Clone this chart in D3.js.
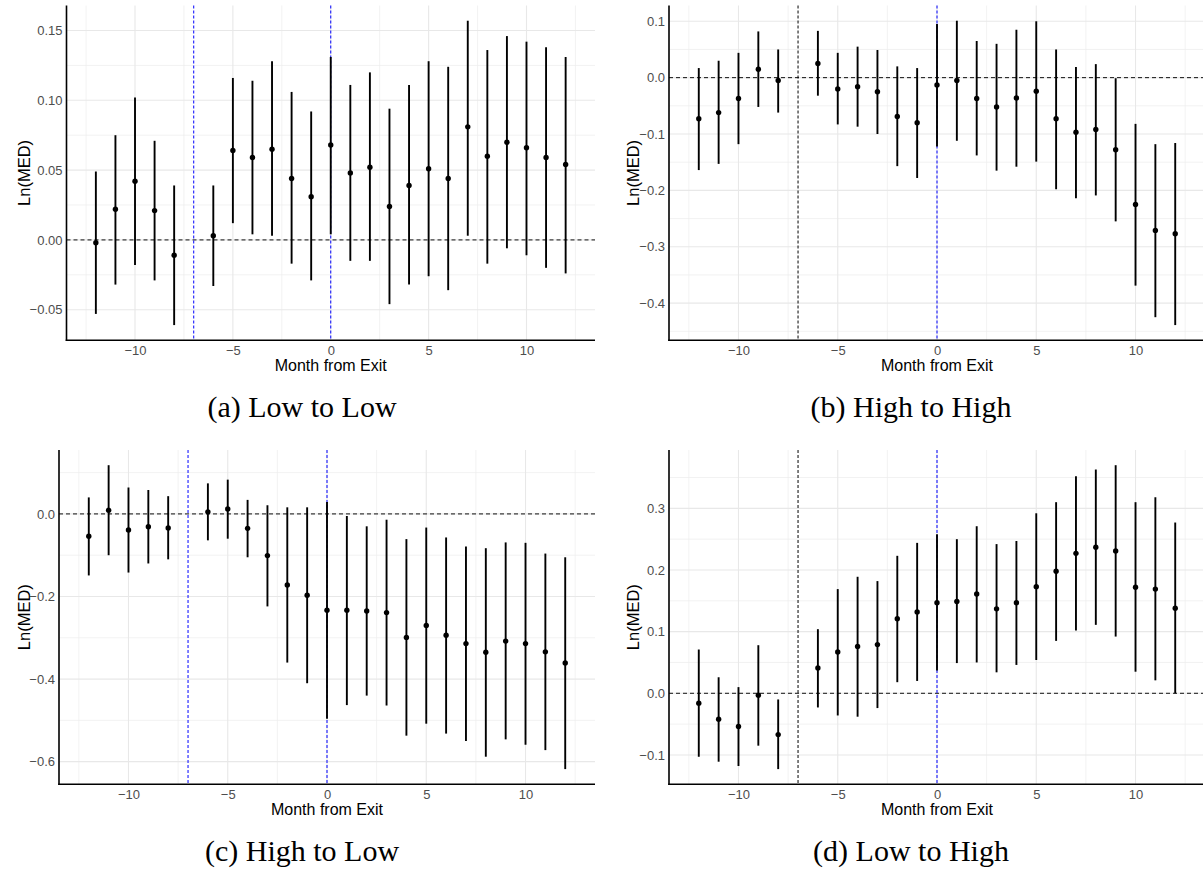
<!DOCTYPE html>
<html>
<head>
<meta charset="utf-8">
<script src="https://cdn.jsdelivr.net/npm/d3@7"></script>
<style>
  body { margin: 0; background: #fff; }
  .caption { font-family: "Liberation Serif", "Times New Roman", serif; }
</style>
</head>
<body>
<div id="grafico"></div>
<script>
// Meses relativos a la salida (no hay mes -7)
const months = [-12, -11, -10, -9, -8, -6, -5, -4, -3, -2, -1, 0, 1, 2, 3, 4, 5, 6, 7, 8, 9, 10, 11, 12];

// (a) Low to Low
const estA = [-0.002, 0.022, 0.042, 0.021, -0.011, 0.003, 0.064, 0.059, 0.065, 0.044, 0.031, 0.068, 0.048, 0.052, 0.024, 0.039, 0.051, 0.044, 0.081, 0.060, 0.070, 0.066, 0.059, 0.054];
const loA = [-0.053, -0.032, -0.018, -0.029, -0.061, -0.033, 0.012, 0.004, 0.003, -0.017, -0.029, 0.004, -0.015, -0.015, -0.046, -0.032, -0.026, -0.036, 0.003, -0.017, -0.006, -0.011, -0.020, -0.024];
const hiA = [0.049, 0.075, 0.102, 0.071, 0.039, 0.039, 0.116, 0.114, 0.128, 0.106, 0.092, 0.131, 0.111, 0.120, 0.094, 0.111, 0.128, 0.124, 0.157, 0.136, 0.146, 0.142, 0.138, 0.131];

// (b) High to High
const estB = [-0.073, -0.062, -0.037, 0.015, -0.005, 0.025, -0.020, -0.016, -0.025, -0.069, -0.080, -0.013, -0.005, -0.037, -0.052, -0.036, -0.024, -0.073, -0.097, -0.092, -0.128, -0.225, -0.271, -0.277];
const loB = [-0.164, -0.153, -0.118, -0.052, -0.062, -0.032, -0.083, -0.087, -0.100, -0.157, -0.178, -0.122, -0.112, -0.138, -0.165, -0.158, -0.149, -0.198, -0.214, -0.209, -0.255, -0.369, -0.425, -0.439];
const hiB = [0.017, 0.030, 0.044, 0.082, 0.050, 0.083, 0.044, 0.055, 0.049, 0.020, 0.017, 0.095, 0.101, 0.065, 0.060, 0.085, 0.100, 0.050, 0.019, 0.024, -0.001, -0.082, -0.118, -0.116];

// (c) High to Low
const estC = [-0.054, 0.009, -0.039, -0.031, -0.034, 0.005, 0.012, -0.035, -0.101, -0.172, -0.197, -0.233, -0.233, -0.235, -0.239, -0.299, -0.270, -0.294, -0.314, -0.335, -0.308, -0.314, -0.334, -0.361];
const loC = [-0.149, -0.100, -0.142, -0.120, -0.110, -0.064, -0.060, -0.105, -0.224, -0.360, -0.410, -0.496, -0.463, -0.440, -0.464, -0.537, -0.508, -0.532, -0.550, -0.588, -0.546, -0.559, -0.572, -0.618];
const hiC = [0.040, 0.118, 0.064, 0.058, 0.043, 0.074, 0.083, 0.034, 0.021, 0.016, 0.016, 0.029, -0.005, -0.030, -0.014, -0.061, -0.033, -0.057, -0.079, -0.083, -0.069, -0.070, -0.096, -0.105];

// (d) Low to High
const estD = [-0.016, -0.042, -0.054, -0.003, -0.067, 0.041, 0.067, 0.076, 0.079, 0.121, 0.132, 0.147, 0.149, 0.161, 0.137, 0.147, 0.173, 0.198, 0.227, 0.237, 0.231, 0.172, 0.169, 0.138];
const loD = [-0.103, -0.111, -0.118, -0.085, -0.123, -0.023, -0.036, -0.038, -0.024, 0.018, 0.020, 0.037, 0.049, 0.050, 0.034, 0.046, 0.054, 0.085, 0.102, 0.111, 0.092, 0.035, 0.021, 0.000];
const hiD = [0.071, 0.026, 0.010, 0.078, -0.010, 0.104, 0.169, 0.189, 0.182, 0.223, 0.244, 0.258, 0.250, 0.271, 0.242, 0.247, 0.292, 0.310, 0.352, 0.363, 0.370, 0.310, 0.318, 0.277];

// Marcas de los ejes
const xTicks = [-10, -5, 0, 5, 10];
const yTicksA = [-0.05, 0, 0.05, 0.10, 0.15];
const yTicksB = [-0.4, -0.3, -0.2, -0.1, 0, 0.1];
const yTicksC = [-0.6, -0.4, -0.2, 0];
const yTicksD = [-0.1, 0, 0.1, 0.2, 0.3];

const captions = ["(a) Low to Low", "(b) High to High", "(c) High to Low", "(d) Low to High"];
const xTitle = "Month from Exit";
const yTitle = "Ln(MED)";
const startMonth = -7;
const exitMonth = 0;

// Configuración del SVG
const width = 1203;
const height = 871;
const font = "'Liberation Sans', Arial, Helvetica, sans-serif";

const svg = d3.select("#grafico")
    .append("svg")
    .attr("width", width)
    .attr("height", height)
    .style("background", "#fff");

// Posición de cada panel
const panels = [
    { est: estA, lo: loA, hi: hiA, ticks: yTicksA, fmt: ".2f", cap: captions[0], x0: 66.5, x1: 595, y0: 5.5, y1: 340.3, off: 0, c7: "blue" },
    { est: estB, lo: loB, hi: hiB, ticks: yTicksB, fmt: ".1f", cap: captions[1], x0: 669, x1: 1205, y0: 5.5, y1: 340.3, off: 609, c7: "black" },
    { est: estC, lo: loC, hi: hiC, ticks: yTicksC, fmt: ".1f", cap: captions[2], x0: 59, x1: 595, y0: 450, y1: 784.3, off: 0, c7: "blue" },
    { est: estD, lo: loD, hi: hiD, ticks: yTicksD, fmt: ".1f", cap: captions[3], x0: 669, x1: 1205, y0: 450, y1: 784.3, off: 609, c7: "black" }
];

// Marcas menores a medio camino entre las mayores
function minorTicks(ticks, domain) {
    const step = ticks[1] - ticks[0];
    const out = [];
    for (let i = -1; i < ticks.length; i++) {
        const v = (i < 0 ? ticks[0] - step : ticks[i]) + step / 2;
        if (v >= domain[0] && v <= domain[1]) out.push(v);
    }
    return out;
}

panels.forEach(p => {
    const g = svg.append("g");

    const x = d3.scaleLinear().domain([-13.5, 13.5]).range([p.x0, p.x1]);
    const lo = d3.min(p.lo), hi = d3.max(p.hi);
    const pad = (hi - lo) * 0.05;
    const y = d3.scaleLinear().domain([lo - pad, hi + pad]).range([p.y1, p.y0]);

    // Rejilla menor y mayor
    const yMinor = minorTicks(p.ticks, y.domain());
    const xMinor = minorTicks(xTicks, x.domain());

    g.selectAll(".hminor").data(yMinor).enter().append("line")
        .attr("x1", p.x0).attr("x2", p.x1)
        .attr("y1", d => y(d)).attr("y2", d => y(d))
        .attr("stroke", "#ececec").attr("stroke-width", 0.7);
    g.selectAll(".vminor").data(xMinor).enter().append("line")
        .attr("x1", d => x(d)).attr("x2", d => x(d))
        .attr("y1", p.y0).attr("y2", p.y1)
        .attr("stroke", "#ececec").attr("stroke-width", 0.7);
    g.selectAll(".hmajor").data(p.ticks).enter().append("line")
        .attr("x1", p.x0).attr("x2", p.x1)
        .attr("y1", d => y(d)).attr("y2", d => y(d))
        .attr("stroke", "#e8e8e8").attr("stroke-width", 1.1);
    g.selectAll(".vmajor").data(xTicks).enter().append("line")
        .attr("x1", d => x(d)).attr("x2", d => x(d))
        .attr("y1", p.y0).attr("y2", p.y1)
        .attr("stroke", "#e8e8e8").attr("stroke-width", 1.1);

    // Línea horizontal en cero
    g.append("line")
        .attr("x1", p.x0).attr("x2", p.x1)
        .attr("y1", y(0)).attr("y2", y(0))
        .attr("stroke", "#111").attr("stroke-width", 1)
        .attr("stroke-dasharray", "4,3");

    // Líneas verticales: inicio (-7) y salida (0)
    g.append("line")
        .attr("x1", x(startMonth)).attr("x2", x(startMonth))
        .attr("y1", p.y0).attr("y2", p.y1)
        .attr("stroke", p.c7).attr("stroke-width", 1)
        .attr("stroke-dasharray", "3,2");
    g.append("line")
        .attr("x1", x(exitMonth)).attr("x2", x(exitMonth))
        .attr("y1", p.y0).attr("y2", p.y1)
        .attr("stroke", "blue").attr("stroke-width", 1)
        .attr("stroke-dasharray", "3,2");

    // Barras de error y puntos
    const rows = months.map((m, i) => ({ m: m, est: p.est[i], lo: p.lo[i], hi: p.hi[i] }));
    g.selectAll(".bar").data(rows).enter().append("line")
        .attr("x1", d => x(d.m)).attr("x2", d => x(d.m))
        .attr("y1", d => y(d.lo)).attr("y2", d => y(d.hi))
        .attr("stroke", "#000").attr("stroke-width", 1.9);
    g.selectAll(".dot").data(rows).enter().append("circle")
        .attr("cx", d => x(d.m)).attr("cy", d => y(d.est))
        .attr("r", 2.7).attr("fill", "#000");

    // Ejes
    const yAxis = g.append("g")
        .attr("transform", `translate(${p.x0},0)`)
        .call(d3.axisLeft(y).tickValues(p.ticks).tickFormat(d3.format(p.fmt)).tickSize(0).tickPadding(4));
    const xAxis = g.append("g")
        .attr("transform", `translate(0,${p.y1})`)
        .call(d3.axisBottom(x).tickValues(xTicks).tickFormat(d3.format("d")).tickSize(0).tickPadding(5));
    [yAxis, xAxis].forEach(a => {
        a.select(".domain").remove();
        a.selectAll("text")
            .attr("fill", "#4d4d4d")
            .style("font-family", font)
            .style("font-size", "13px");
    });

    g.append("line")
        .attr("x1", p.x0).attr("x2", p.x0)
        .attr("y1", p.y0).attr("y2", p.y1 + 0.8)
        .attr("stroke", "#000").attr("stroke-width", 1.6);
    g.append("line")
        .attr("x1", p.x0 - 0.8).attr("x2", p.x1)
        .attr("y1", p.y1).attr("y2", p.y1)
        .attr("stroke", "#000").attr("stroke-width", 1.6);

    // Títulos de los ejes
    g.append("text")
        .attr("x", (p.x0 + p.x1) / 2)
        .attr("y", p.y1 + 30.7)
        .attr("text-anchor", "middle")
        .style("font-family", font)
        .style("font-size", "16px")
        .attr("fill", "#000")
        .text(xTitle);
    g.append("text")
        .attr("transform", `translate(${29.5 + p.off},${(p.y0 + p.y1) / 2}) rotate(-90)`)
        .attr("text-anchor", "middle")
        .style("font-family", font)
        .style("font-size", "16.5px")
        .attr("fill", "#000")
        .text(yTitle);

    // Subtítulo del panel
    g.append("text")
        .attr("class", "caption")
        .attr("x", 302 + p.off)
        .attr("y", p.y1 + 76.3)
        .attr("text-anchor", "middle")
        .style("font-size", "30px")
        .attr("fill", "#000")
        .text(p.cap);
});
</script>
</body>
</html>
